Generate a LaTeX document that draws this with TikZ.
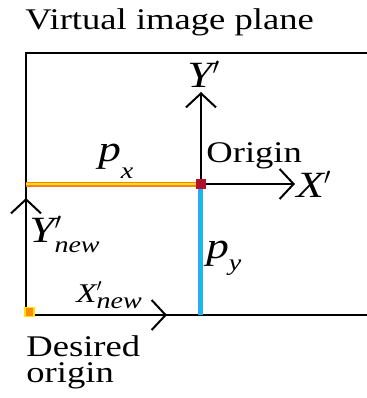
\documentclass[tikz,border=0pt]{standalone}
\usepackage{fontspec}
\setmainfont[FakeStretch=1.22]{Liberation Serif}
\usepackage{tikz}
\usetikzlibrary{arrows.meta,positioning}
\definecolor{pxouter}{RGB}{255,125,40}
\definecolor{pxinner}{RGB}{255,228,0}
\definecolor{pyouter}{RGB}{60,160,255}
\definecolor{pyinner}{RGB}{0,200,220}
\definecolor{origred}{RGB}{176,16,48}
\definecolor{neworange}{RGB}{255,140,0}
\newcommand{\subtxt}[2]{\raisebox{-#1}{\fontsize{11.5}{11.5}\selectfont\itshape #2}}
\tikzset{
    plane line/.style={draw,line width=1pt,line cap=rect},
    axis arrow/.style={
        line width=1pt,
        -{Straight Barb[length=7pt,width=15pt,line width=1pt]}
    },
    plain text/.style={
        inner sep=0,anchor=base west,
        font=\fontsize{15}{13}\selectfont
    },
    sym text/.style={
        inner sep=0,anchor=base west,
        font=\fontsize{18.5}{18.5}\selectfont\itshape
    },
    mark square/.style={
        draw,line width=0.6pt,inner sep=0,
        minimum size=4.5pt
    }
}

\begin{document}
\begin{tikzpicture}[x=0.5pt,y=-0.5pt]
\useasboundingbox (0,0) rectangle (366,398);
% corners of the plane and the two origins
\coordinate (tl) at (26,53);
\coordinate (tr) at (366,53);
\coordinate (br) at (366,315);
\coordinate (newo) at (26,315);
\coordinate (origin) at (201,184);
\coordinate (pxstart) at (26,184);
\coordinate (pyend) at (201,315);
\coordinate (ytip) at (201,92);
\coordinate (xtip) at (295,184);
\coordinate (ynewtip) at (26,198);
\coordinate (xnewtip) at (167,315);

\node[plain text] (title) at (25,29) {Virtual image plane};
\draw[plane line] (tr) -- (tl) -- (newo) -- (br);

% offsets p_x and p_y
\draw[pxouter,line width=2.5pt] (pxstart) -- (origin);
\draw[pxinner,line width=1pt] (pxstart) -- (origin);
\draw[pyouter,line width=2.5pt] (origin) -- (pyend);
\draw[pyinner,line width=1pt] (origin) -- (pyend);

\foreach \from/\to in {origin/ytip,origin/xtip,newo/ynewtip,newo/xnewtip}
    \draw[axis arrow] (\from) -- (\to);

\node[mark square,draw=origred!80!red,fill=origred] (orig mark) at (origin) {};
\node[mark square,draw=pxinner,fill=neworange] (new mark) at (29.5,312) {};

\node[sym text] (ylabel) at (187,87) {Y$'$};
\node[sym text] (xlabel) at (296,197) {X$'$};
\node[plain text] (origin text) at (206,162) {Origin};
\node[sym text] (pxlabel) at (98,161) {p\subtxt{8.5pt}{x}};
\node[sym text] (pylabel) at (206,258) {p\subtxt{6pt}{y}};
\node[sym text] (ynewlabel) at (29,242) {Y\rlap{$'$}\subtxt{5pt}{new}};
\node[sym text,font=\fontsize{13.5}{13.5}\selectfont\itshape] (xnewlabel) at (76,302) {X\rlap{$'$}\subtxt{3pt}{new}};
\node[plain text,align=left] (desired) at (26,382) {Desired\\origin};
\end{tikzpicture}
\end{document}
